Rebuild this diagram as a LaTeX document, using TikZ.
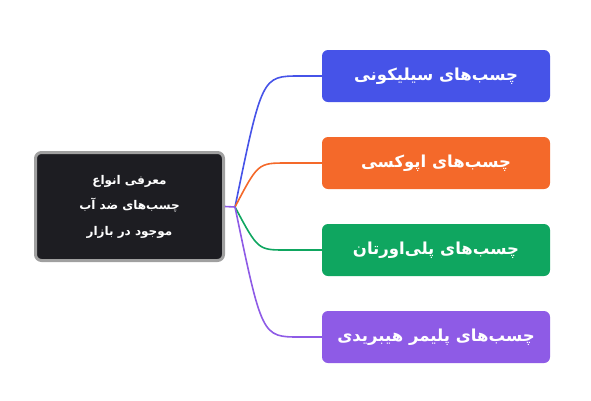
\documentclass[tikz,border=0pt]{standalone}
\usepackage{fontspec}
\newfontfamily\arabicfont[Script=Arabic]{DejaVu Sans}
\TeXXeTstate=1
\definecolor{cblue}{HTML}{4653E8}
\definecolor{corange}{HTML}{F4692A}
\definecolor{cgreen}{HTML}{0FA660}
\definecolor{cpurple}{HTML}{8E5BE6}
\definecolor{cdark}{HTML}{1D1D22}
\definecolor{cgray}{HTML}{A0A0A0}
\begin{document}
\begin{tikzpicture}[x=1pt,y=-1pt,
  leaf/.style={rounded corners=6pt, minimum width=228pt, minimum height=52pt, inner sep=0pt,
    text=white, font=\arabicfont\bfseries\fontsize{16.5}{20}\selectfont},
  rootbox/.style={draw=cgray, line width=3pt, fill=cdark, rounded corners=6pt,
    minimum width=188pt, minimum height=108pt, inner sep=0pt, text=white, align=center,
    font=\arabicfont\bfseries\fontsize{12}{25.5}\selectfont},
  link/.style={line width=1.6pt}]
\useasboundingbox (0,0) rectangle (591,400);
\node[rootbox] (root) at (129.5,206.5) {\beginR معرفی انواع\endR\\\beginR چسب‌های ضد آب\endR\\\beginR موجود در بازار\endR};
\node[leaf, fill=cblue] (a) at (436,76) {\beginR چسب‌های سیلیکونی\endR};
\node[leaf, fill=corange] (b) at (436,163) {\beginR چسب‌های اپوکسی\endR};
\node[leaf, fill=cgreen] (c) at (436,250) {\beginR چسب‌های پلی‌اورتان\endR};
\node[leaf, fill=cpurple] (d) at (436,337) {\beginR چسب‌های پلیمر هیبریدی\endR};
\coordinate (j) at (235,207);
\draw[link, cblue] (j) .. controls (262,76) .. (300,76) -- (a.west);
\draw[link, corange] (j) .. controls (258,163) .. (287,163) -- (b.west);
\draw[link, cgreen] (j) .. controls (258,250) .. (286,250) -- (c.west);
\draw[link, cpurple] (j) .. controls (262,337) .. (300,337) -- (d.west);
\draw[link, cpurple] (root.east) -- (j);
\end{tikzpicture}
\end{document}
